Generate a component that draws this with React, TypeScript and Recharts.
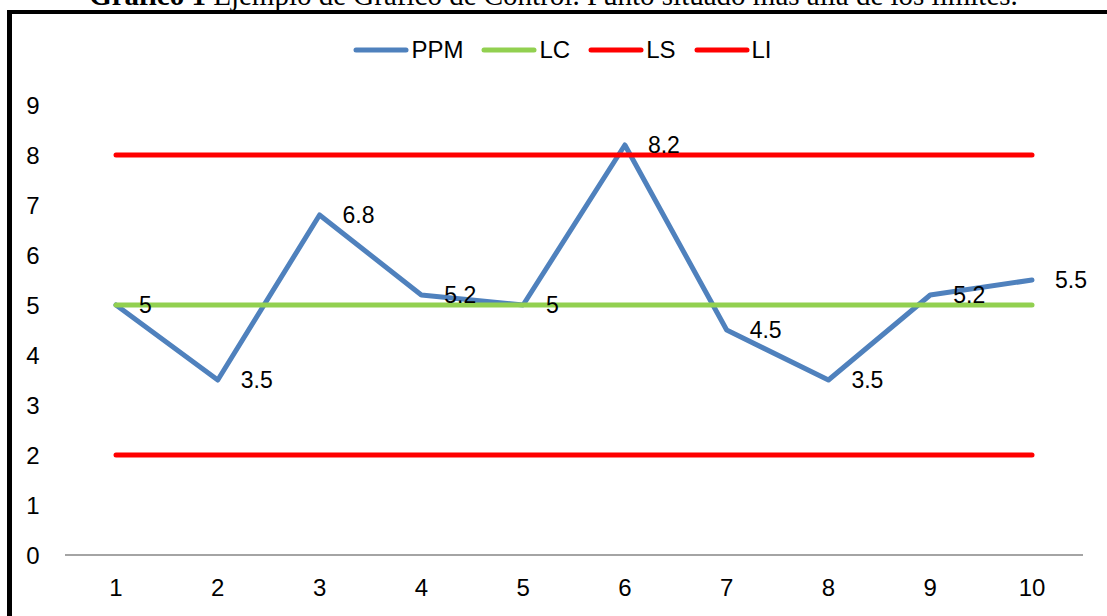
import { LineChart, Line, XAxis, YAxis, LabelList } from "recharts";

// control chart: measured PPM against centre line and upper/lower limits
const samples = ["1", "2", "3", "4", "5", "6", "7", "8", "9", "10"];
const ppm = [5, 3.5, 6.8, 5.2, 5, 8.2, 4.5, 3.5, 5.2, 5.5];
const lc = [5, 5, 5, 5, 5, 5, 5, 5, 5, 5];
const ls = [8, 8, 8, 8, 8, 8, 8, 8, 8, 8];
const li = [2, 2, 2, 2, 2, 2, 2, 2, 2, 2];
const yTicks = [0, 1, 2, 3, 4, 5, 6, 7, 8, 9];

const data = samples.map((s, i) => ({
  sample: s,
  PPM: ppm[i],
  LC: lc[i],
  LS: ls[i],
  LI: li[i],
}));

const legendItems = [
  { name: "PPM", color: "#4F81BD" },
  { name: "LC", color: "#92D050" },
  { name: "LS", color: "#FF0000" },
  { name: "LI", color: "#FF0000" },
];

const FONT = "'Liberation Sans', Arial, sans-serif";

const ChartLegend = () => (
  <div
    style={{
      display: "flex",
      justifyContent: "center",
      alignItems: "center",
      paddingLeft: 18,
      fontFamily: FONT,
      fontSize: 24,
      color: "#000",
    }}
  >
    {legendItems.map((item) => (
      <div
        key={item.name}
        style={{ display: "flex", alignItems: "center", margin: "0 9px" }}
      >
        <svg width={56} height={8} style={{ marginRight: 2 }}>
          <line
            x1={3}
            y1={4}
            x2={53}
            y2={4}
            stroke={item.color}
            strokeWidth={5}
            strokeLinecap="round"
          />
        </svg>
        <span>{item.name}</span>
      </div>
    ))}
  </div>
);

const XTick = ({ x, y, payload }: any) => (
  <text
    x={x}
    y={y + 32}
    textAnchor="middle"
    dominantBaseline="central"
    fontFamily={FONT}
    fontSize={24}
    fill="#000"
  >
    {payload.value}
  </text>
);

const YTick = ({ y, payload }: any) => (
  <text
    x={33}
    y={y}
    textAnchor="middle"
    dominantBaseline="central"
    fontFamily={FONT}
    fontSize={24}
    fill="#000"
  >
    {payload.value}
  </text>
);

const PointLabel = ({ x, y, value }: any) => (
  <text
    x={x + 23}
    y={y}
    textAnchor="start"
    dominantBaseline="central"
    fontFamily={FONT}
    fontSize={23}
    fill="#000"
  >
    {value}
  </text>
);

export default function App() {
  return (
    <div
      style={{
        position: "absolute",
        left: 0,
        top: 0,
        width: 1107,
        height: 616,
        overflow: "hidden",
        background: "#fff",
      }}
    >
      <div
        style={{
          position: "absolute",
          left: 0,
          top: -19,
          width: 1107,
          textAlign: "center",
          fontFamily: "'Liberation Serif', 'Times New Roman', serif",
          fontSize: 29,
          lineHeight: "29px",
          whiteSpace: "nowrap",
        }}
      >
        <b>Gráfico 1</b> Ejemplo de Gráfico de Control. Punto situado más allá
        de los límites.
      </div>
      <div
        style={{
          position: "absolute",
          left: 7,
          top: 10,
          width: 1200,
          height: 700,
          borderLeft: "5px solid #000",
          borderTop: "4px solid #000",
        }}
      />
      <div style={{ position: "absolute", left: 0, top: 36, width: 1107 }}>
        <ChartLegend />
      </div>
      <div style={{ position: "absolute", left: 0, top: 0 }}>
        <LineChart
          width={1107}
          height={616}
          data={data}
          margin={{ top: 105, right: 24, bottom: 31, left: 0 }}
        >
          <XAxis
            dataKey="sample"
            height={30}
            padding={{ left: 51, right: 51 }}
            axisLine={{ stroke: "#868686", strokeWidth: 1.5 }}
            tickLine={false}
            tickSize={0}
            tickMargin={0}
            tick={<XTick />}
            interval={0}
          />
          <YAxis
            width={65}
            domain={[0, 9]}
            ticks={yTicks}
            axisLine={false}
            tickLine={false}
            tick={<YTick />}
            interval={0}
          />
          <Line
            dataKey="PPM"
            stroke="#4F81BD"
            strokeWidth={5}
            strokeLinecap="round"
            strokeLinejoin="round"
            dot={false}
            isAnimationActive={false}
          />
          <Line
            dataKey="LC"
            stroke="#92D050"
            strokeWidth={5}
            strokeLinecap="round"
            dot={false}
            isAnimationActive={false}
          />
          <Line
            dataKey="LS"
            stroke="#FF0000"
            strokeWidth={5}
            strokeLinecap="round"
            dot={false}
            isAnimationActive={false}
          />
          <Line
            dataKey="LI"
            stroke="#FF0000"
            strokeWidth={5}
            strokeLinecap="round"
            dot={false}
            isAnimationActive={false}
          />
          {/* PPM value labels drawn last so they sit above the limit lines */}
          <Line
            dataKey="PPM"
            stroke="none"
            dot={false}
            activeDot={false}
            legendType="none"
            isAnimationActive={false}
          >
            <LabelList dataKey="PPM" content={<PointLabel />} />
          </Line>
        </LineChart>
      </div>
    </div>
  );
}
